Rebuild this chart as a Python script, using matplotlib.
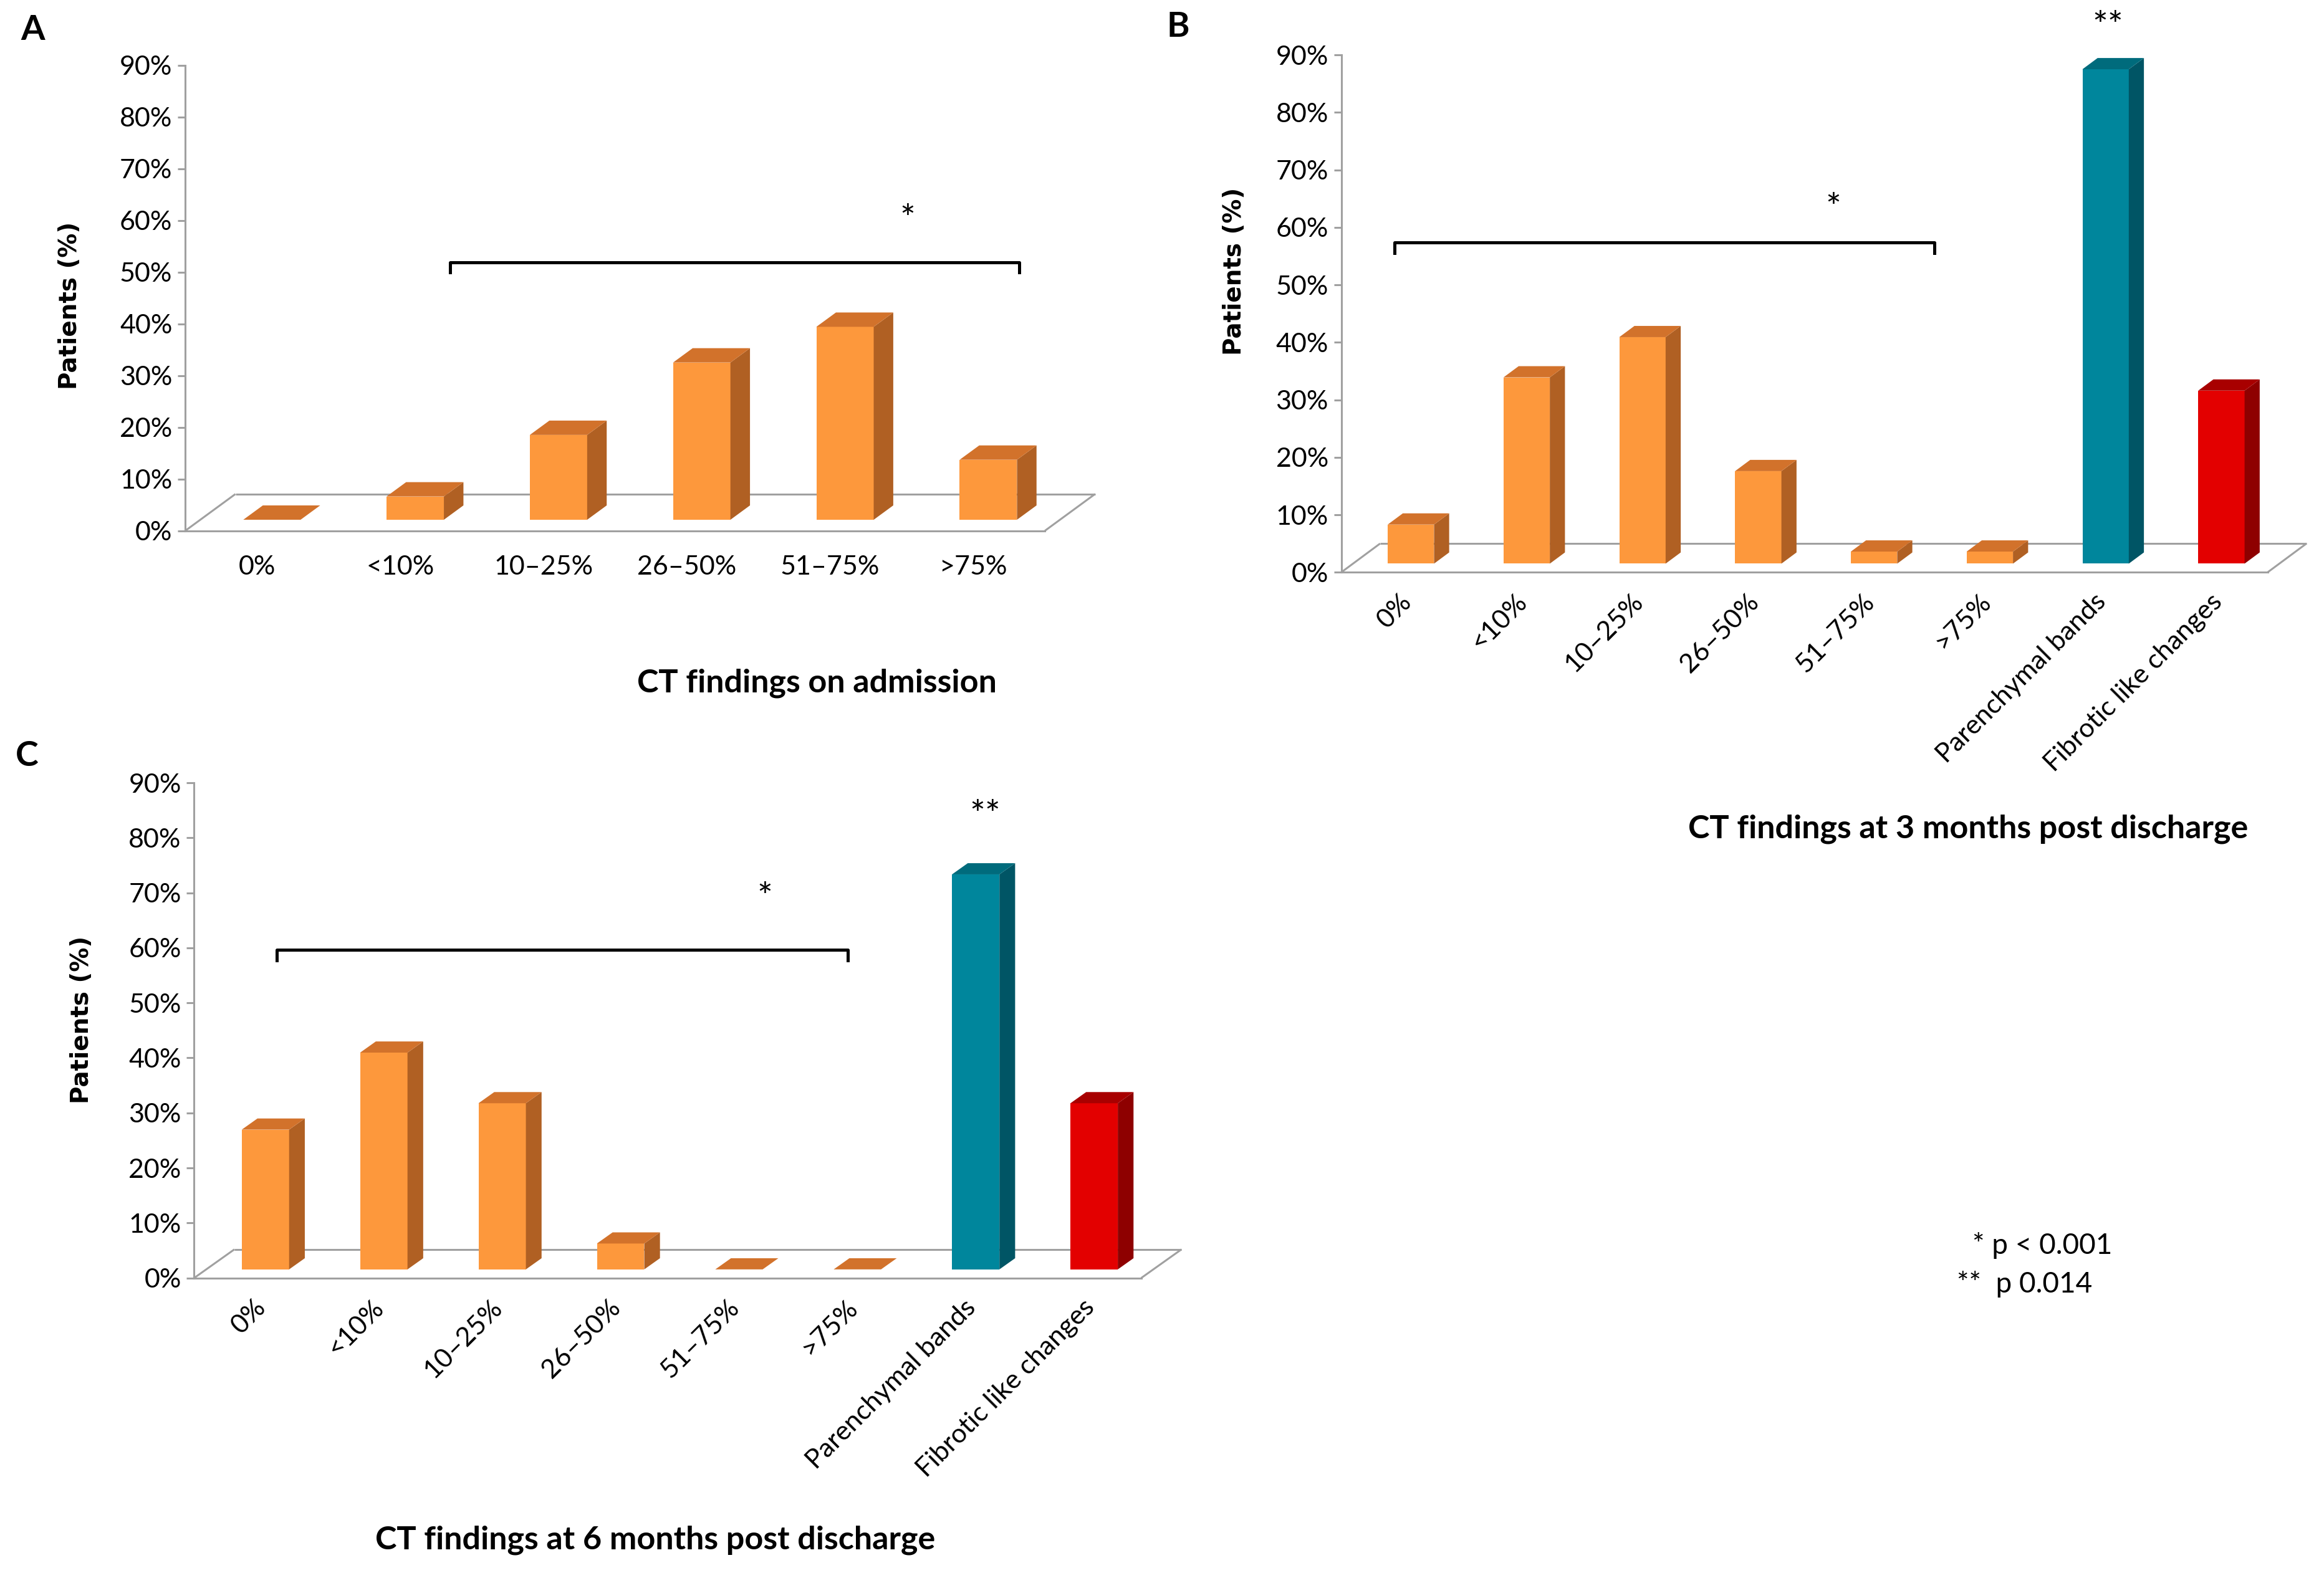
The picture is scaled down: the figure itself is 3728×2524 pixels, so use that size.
import matplotlib
matplotlib.use("Agg")
import matplotlib.pyplot as plt
from matplotlib.patches import Polygon
from matplotlib.transforms import ScaledTranslation

# ---------------- data ----------------
cats_A = ["0%", "<10%", "10\u201325%", "26\u201350%", "51\u201375%", ">75%"]
vals_A = [0, 4.5, 16.4, 30.4, 37.3, 11.6]

cats_BC = ["0%", "<10%", "10\u201325%", "26\u201350%", "51\u201375%", ">75%",
           "Parenchymal bands", "Fibrotic like changes"]
vals_B = [6.8, 32.4, 39.4, 16.1, 2.1, 2.1, 86.0, 30.1]
vals_C = [25.4, 39.4, 30.2, 4.7, 0, 0, 71.8, 30.2]

yticks = [0, 10, 20, 30, 40, 50, 60, 70, 80, 90]
ytick_labels = [f"{t}%" for t in yticks]

title_A = "CT findings on admission"
title_B = "CT findings at 3 months post discharge"
title_C = "CT findings at 6 months post discharge"
ylabel = "Patients (%)"

# ---------------- style ----------------
ORANGE = ("#FD983C", "#D2722B", "#B06023")
TEAL = ("#00869C", "#006B7C", "#005565")
RED = ("#E30000", "#A80000", "#8E0000")
colors_A = [ORANGE] * 6
colors_BC = [ORANGE] * 6 + [TEAL, RED]
GRAY = "#A0A0A0"
FONT = "Lato"
TICK_FS = 31
STAR_FS = 42

fig = plt.figure(figsize=(37.28, 25.24), dpi=100)
W, H = 1568.0, 1061.0


def fx(x):
    return x / W


def fy(y):
    return 1 - y / H


def draw_panel(rect, cats, vals, colors, DX, DY, rotate, xoff_pt, pad_pt):
    ax = fig.add_axes(rect)
    n = len(cats)
    ax.set_xlim(0, n)
    ax.set_ylim(0, 90)
    for s in ("top", "right"):
        ax.spines[s].set_visible(False)
    for s in ("left", "bottom"):
        ax.spines[s].set_color(GRAY)
        ax.spines[s].set_linewidth(2.2)
        ax.spines[s].set_zorder(1)
    # floor outline
    kw = dict(color=GRAY, lw=2.2, clip_on=False, zorder=1, solid_capstyle="butt")
    ax.plot([0, DX], [0, DY], **kw)
    ax.plot([DX, n + DX], [DY, DY], **kw)
    ax.plot([n, n + DX], [0, DY], **kw)

    f, w, d = 0.30, 0.40, 0.39
    for i, (v, (cf, ct, cs)) in enumerate(zip(vals, colors)):
        xc = i + 0.5
        x0 = xc - w / 2 + f * DX
        x1 = xc + w / 2 + f * DX
        y0 = f * DY
        y1 = y0 + v
        ax.bar(x0, v, width=w, bottom=y0, align="edge", color=cf,
               edgecolor="none", zorder=3, clip_on=False)
        side = [(x1, y0), (x1 + d * DX, y0 + d * DY), (x1 + d * DX, y1 + d * DY), (x1, y1)]
        top = [(x0, y1), (x1, y1), (x1 + d * DX, y1 + d * DY), (x0 + d * DX, y1 + d * DY)]
        ax.add_patch(Polygon(side, closed=True, facecolor=cs, edgecolor="none",
                             zorder=3, clip_on=False))
        ax.add_patch(Polygon(top, closed=True, facecolor=ct, edgecolor="none",
                             zorder=3, clip_on=False))

    ax.set_yticks(yticks)
    ax.set_yticklabels(ytick_labels, fontsize=TICK_FS, family=FONT)
    ax.tick_params(axis="y", length=9, width=2.2, color=GRAY, pad=6)
    ax.set_xticks([i + 0.5 for i in range(n)])
    if rotate:
        ax.set_xticklabels(cats, fontsize=TICK_FS, family=FONT, rotation=45,
                           ha="right", va="top", rotation_mode="anchor")
        for lab in ax.get_xticklabels():
            lab.set_transform(lab.get_transform() +
                              ScaledTranslation(xoff_pt / 72, 0, fig.dpi_scale_trans))
    else:
        ax.set_xticklabels(cats, fontsize=TICK_FS, family=FONT)
    ax.tick_params(axis="x", length=0, pad=pad_pt)
    ax.patch.set_alpha(0)
    return ax


def bracket(ax, x0, x1, ytop, ybot):
    ax.plot([x0, x0, x1, x1], [ybot, ytop, ytop, ybot], color="black",
            lw=3.6, clip_on=False, zorder=5, solid_joinstyle="round")


def star(ax, x, y, s):
    ax.text(x, y, s, fontsize=STAR_FS, family=FONT, ha="center", va="center")


# Panel A
axA = draw_panel([fx(125), fy(358), fx(705) - fx(125), fy(44) - fy(358)],
                 cats_A, vals_A, colors_A, DX=0.35, DY=7.1, rotate=False,
                 xoff_pt=0, pad_pt=28)
bracket(axA, 1.85, 5.82, 51.9, 50.0)
star(axA, 5.04, 60.0, "*")

# Panel B
axB = draw_panel([fx(905), fy(386), fx(1530) - fx(905), fy(37) - fy(386)],
                 cats_BC, vals_B, colors_BC, DX=0.335, DY=5.0, rotate=True,
                 xoff_pt=10, pad_pt=20)
bracket(axB, 0.46, 5.12, 57.4, 55.5)
star(axB, 4.25, 63.2, "*")
star(axB, 6.62, 94.8, "**")

# Panel C
axC = draw_panel([fx(131), fy(862), fx(770) - fx(131), fy(528) - fy(862)],
                 cats_BC, vals_C, colors_BC, DX=0.34, DY=5.2, rotate=True,
                 xoff_pt=10, pad_pt=20)
bracket(axC, 0.70, 5.52, 59.7, 57.7)
star(axC, 4.82, 69.0, "*")
star(axC, 6.68, 84.0, "**")

# y labels
for (x, y) in [(47, 206), (833, 183), (55, 688)]:
    fig.text(fx(x), fy(y), ylabel, rotation=90, fontsize=28, fontweight="bold",
             family="DejaVu Sans", ha="center", va="center")

# titles
for (x, y, t) in [(551, 461, title_A), (1328, 559, title_B), (442, 1039, title_C)]:
    fig.text(fx(x), fy(y), t, fontsize=37.5, fontweight="bold", family=FONT,
             ha="center", va="center")

# panel letters
for (x, y, t) in [(22, 20, "A"), (795, 18, "B"), (18, 510, "C")]:
    fig.text(fx(x), fy(y), t, fontsize=40, fontweight="bold", family=FONT,
             ha="center", va="center")

# footnote
fig.text(fx(1378), fy(840), "* p < 0.001", fontsize=33, family=FONT,
         ha="center", va="center")
fig.text(fx(1366), fy(866), "**  p 0.014", fontsize=33, family=FONT,
         ha="center", va="center")

fig.savefig("out.png", dpi=100, facecolor="white")
